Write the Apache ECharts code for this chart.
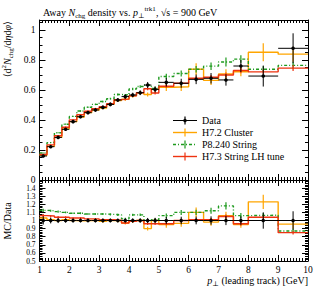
<!DOCTYPE html>
<html><head><meta charset="utf-8">
<script src="https://cdn.jsdelivr.net/npm/echarts@6/dist/echarts.min.js"></script>
<style>html,body{margin:0;padding:0;background:#fff}#c{width:319px;height:288px}</style>
</head><body><div id="c"></div>
<script>
// ---- data ----
const binEdges = [1,1.25,1.5,1.75,2,2.25,2.5,2.75,3,3.25,3.5,3.75,4,4.25,4.5,4.75,5,5.5,6,6.5,7,7.5,8,9,10];
const dataVals = [0.160,0.222,0.284,0.338,0.389,0.422,0.449,0.467,0.484,0.504,0.533,0.556,0.567,0.582,0.633,0.604,0.651,0.645,0.671,0.678,0.667,0.760,0.693,0.878];
const dataErr  = [0.008,0.008,0.009,0.009,0.010,0.010,0.010,0.011,0.012,0.012,0.013,0.014,0.015,0.016,0.020,0.020,0.028,0.030,0.032,0.035,0.038,0.040,0.070,0.100];
const h72Vals  = [0.165,0.224,0.284,0.341,0.389,0.420,0.449,0.467,0.479,0.504,0.530,0.539,0.561,0.582,0.570,0.604,0.618,0.622,0.738,0.664,0.707,0.722,0.852,0.839];
const h72Err   = [0.004,0.004,0.005,0.005,0.006,0.006,0.007,0.007,0.008,0.008,0.009,0.010,0.011,0.012,0.014,0.015,0.025,0.028,0.040,0.030,0.032,0.030,0.060,0.050];
const p8Vals   = [0.180,0.249,0.315,0.372,0.424,0.460,0.485,0.504,0.523,0.542,0.570,0.567,0.607,0.623,0.633,0.610,0.690,0.710,0.738,0.759,0.787,0.806,0.738,0.764];
const p8Err    = [0.003,0.003,0.004,0.004,0.004,0.005,0.005,0.005,0.006,0.006,0.007,0.007,0.008,0.009,0.010,0.011,0.018,0.020,0.022,0.025,0.030,0.025,0.020,0.025];
const h73Vals  = [0.170,0.234,0.295,0.352,0.401,0.435,0.458,0.476,0.489,0.509,0.536,0.539,0.561,0.582,0.608,0.580,0.625,0.645,0.678,0.685,0.700,0.730,0.721,0.746];
const h73Err   = [0.003,0.003,0.004,0.004,0.004,0.005,0.005,0.005,0.006,0.006,0.007,0.007,0.008,0.008,0.009,0.010,0.012,0.013,0.014,0.015,0.016,0.018,0.015,0.020];
const h72Ratio = [1.03,1.01,1.00,1.01,1.00,0.995,1.00,1.00,0.99,1.00,0.995,0.97,0.99,1.00,0.90,1.00,0.95,0.965,1.10,0.98,1.06,0.95,1.23,0.955];
const p8Ratio  = [1.125,1.12,1.11,1.10,1.09,1.09,1.08,1.08,1.08,1.075,1.07,1.02,1.07,1.07,1.00,1.01,1.06,1.10,1.10,1.12,1.18,1.06,1.065,0.87];
const h73Ratio = [1.06,1.055,1.04,1.04,1.03,1.03,1.02,1.02,1.01,1.01,1.005,0.97,0.99,1.00,0.96,0.96,0.96,1.00,1.01,1.01,1.05,0.96,1.04,0.85];
const xTickLabels = [1,2,3,4,5,6,7,8,9,10];
const mainYTicks = [0,0.2,0.4,0.6,0.8,1];
const ratioYTicks = [0.5,0.6,0.7,0.8,0.9,1,1.1,1.2,1.3,1.4];

const C_DATA = '#000000', C_H72 = '#ffa500', C_P8 = '#1e9a1e', C_H73 = '#ee3311';
const FONT = '"Liberation Serif", "DejaVu Serif", serif';

function stepData(vals){ const d = vals.map((v,i)=>[binEdges[i], v]); d.push([binEdges[vals.length], vals[vals.length-1]]); return d; }
function barData(vals, errs){ return vals.map((v,i)=>[binEdges[i], binEdges[i+1], v, errs[i]]); }
const ones = dataVals.map(()=>1);
const dataRatioErr = dataErr.map((e,i)=>e/dataVals[i]);
const h72RErr = h72Err.map((e,i)=>e/dataVals[i]);
const p8RErr = p8Err.map((e,i)=>e/dataVals[i]);
const h73RErr = h73Err.map((e,i)=>e/dataVals[i]);

function stepSeries(vals, color, dash, xi, yi, z){
  return {type:'line', xAxisIndex:xi, yAxisIndex:yi, data:stepData(vals), step:'end', showSymbol:false, silent:true, z:z,
    lineStyle:{color:color, width:1.4, type:dash||'solid'}, animation:false, clip:false};
}
function errSeries(vals, errs, color, xi, yi, z){
  return {type:'custom', xAxisIndex:xi, yAxisIndex:yi, data:barData(vals, errs), z:z, silent:true, animation:false,
    encode:{x:[0,1], y:[2]},
    renderItem:function(params, api){
      const xc = (api.value(0)+api.value(1))/2, v = api.value(2), e = api.value(3);
      const a = api.coord([xc, v-e]), b = api.coord([xc, v+e]);
      return {type:'line', shape:{x1:a[0], y1:a[1], x2:b[0], y2:b[1]}, style:{stroke:color, lineWidth:1.2}};
    }};
}
function dataSeries(vals, errs, xi, yi){
  return {type:'custom', xAxisIndex:xi, yAxisIndex:yi, data:barData(vals, errs), z:10, silent:true, animation:false,
    encode:{x:[0,1], y:[2]},
    renderItem:function(params, api){
      const x0 = api.value(0), x1 = api.value(1), v = api.value(2), e = api.value(3), xc=(x0+x1)/2;
      const l = api.coord([x0, v]), r = api.coord([x1, v]), a = api.coord([xc, v-e]), b = api.coord([xc, v+e]), c = api.coord([xc, v]);
      return {type:'group', children:[
        {type:'line', shape:{x1:l[0], y1:l[1], x2:r[0], y2:r[1]}, style:{stroke:C_DATA, lineWidth:1}},
        {type:'line', shape:{x1:a[0], y1:a[1], x2:b[0], y2:b[1]}, style:{stroke:C_DATA, lineWidth:1}},
        {type:'circle', shape:{cx:c[0], cy:c[1], r:1.8}, style:{fill:C_DATA}}
      ]};
    }};
}

function xAx(grid, pos, labels){
  return {type:'value', gridIndex:grid, position:pos, min:1, max:10, interval:1,
    axisLine:{show:true, onZero:false, lineStyle:{color:'#000', width:1}},
    axisTick:{show:true, inside:true, length:6, lineStyle:{color:'#000'}},
    minorTick:{show:true, splitNumber:10, length:3, lineStyle:{color:'#000'}},
    splitLine:{show:false},
    axisLabel:{show:labels, margin:4, color:'#000', fontFamily:FONT, fontSize:9.5,
      formatter:function(v){ return xTickLabels.indexOf(Math.round(v))>=0 && Math.abs(v-Math.round(v))<1e-6 ? String(Math.round(v)) : ''; }}};
}
function yAx(grid, pos, labels, min, max, interval, minorSplit, tickList, fs){
  return {type:'value', gridIndex:grid, position:pos, min:min, max:max, interval:interval,
    axisLine:{show:true, onZero:false, lineStyle:{color:'#000', width:1}},
    axisTick:{show:true, inside:true, length:6, lineStyle:{color:'#000'}},
    minorTick:{show:true, splitNumber:minorSplit, length:3, lineStyle:{color:'#000'}},
    splitLine:{show:false},
    axisLabel:{show:labels, margin:4, color:'#000', fontFamily:FONT, fontSize:fs, lineHeight:fs, hideOverlap:false,
      formatter:function(v){ for (const t of tickList){ if (Math.abs(v-t)<1e-6) return String(t); } return ''; }}};
}

const richBase = {
  t:{fontFamily:FONT, fontSize:10, color:'#000', verticalAlign:'middle'},
  i:{fontFamily:FONT, fontSize:10, fontStyle:'italic', color:'#000', verticalAlign:'middle'},
  sub:{fontFamily:FONT, fontSize:7, color:'#000', verticalAlign:'bottom', lineHeight:14},
  sup:{fontFamily:FONT, fontSize:7, color:'#000', verticalAlign:'top', lineHeight:14}
};

const legendRows = [
  {name:'Data', color:C_DATA, dash:null, dot:true},
  {name:'H7.2 Cluster', color:C_H72, dash:null},
  {name:'P8.240 String', color:C_P8, dash:[3,2,1,2]},
  {name:'H7.3 String LH tune', color:C_H73, dash:null}
];
const legendGraphics = [];
legendRows.forEach((r,k)=>{
  const y = 120.5 + k*12;
  legendGraphics.push({type:'line', shape:{x1:173, y1:y, x2:197, y2:y}, style:{stroke:r.color, lineWidth:r.dot?1:1.4, lineDash:r.dash||null}, z:20});
  legendGraphics.push({type:'line', shape:{x1:185, y1:y-4, x2:185, y2:y+4}, style:{stroke:r.color, lineWidth:1.2}, z:20});
  if (r.dot) legendGraphics.push({type:'circle', shape:{cx:185, cy:y, r:1.8}, style:{fill:r.color}, z:20});
  legendGraphics.push({type:'text', x:202, y:y, style:{text:r.name, fill:'#000', font:'10px '+FONT, textAlign:'left', textVerticalAlign:'middle', align:'left', verticalAlign:'middle'}, z:20});
});

const chart = echarts.init(document.getElementById('c'), null, {renderer:'svg'});
chart.setOption({
  animation:false,
  backgroundColor:'#fff',
  title:{text:'{t|Away }{i|N}{sub|chg}{t| density vs. }{i|p}{sub|⊥}{sup|trk1}{t|, √s = 900 GeV}', left:38, top:0,
    textStyle:{fontFamily:FONT, fontSize:10, fontWeight:'normal', color:'#000', rich:richBase}},
  grid:[{left:39.5, top:20, width:268.5, height:160}, {left:39.5, top:180, width:268.5, height:81}],
  xAxis:[xAx(0,'bottom',false), xAx(0,'top',false), xAx(1,'bottom',true), xAx(1,'top',false)],
  yAxis:[yAx(0,'left',true,0,1.0667,0.2,4,mainYTicks,9.5), yAx(0,'right',false,0,1.0667,0.2,4,mainYTicks,9.5),
         yAx(1,'left',true,0.5,1.5,0.1,5,ratioYTicks,7.5), yAx(1,'right',false,0.5,1.5,0.1,5,ratioYTicks,7.5)],
  graphic:[
    {type:'text', x:7, y:21, rotation:Math.PI/2, style:{text:'{t|⟨d}{sup|2}{i|N}{sub|chg}{t|/d}{i|η}{t|d}{i|φ}{t|⟩}', rich:richBase, font:'10px '+FONT, fill:'#000', textAlign:'right', align:'right', textVerticalAlign:'middle', verticalAlign:'middle'}},
    {type:'text', x:7, y:221, rotation:Math.PI/2, style:{text:'MC/Data', font:'10px '+FONT, fill:'#000', textAlign:'center', align:'center', textVerticalAlign:'middle', verticalAlign:'middle'}},
    {type:'text', x:308, y:280, style:{text:'{i|p}{sub|⊥}{t| (leading track) [GeV]}', rich:richBase, font:'10px '+FONT, fill:'#000', textAlign:'right', align:'right', textVerticalAlign:'middle', verticalAlign:'middle'}}
  ].concat(legendGraphics),
  series:[
    stepSeries(h72Vals, C_H72, null, 0, 0, 2), errSeries(h72Vals, h72Err, C_H72, 0, 0, 2),
    stepSeries(p8Vals, C_P8, [3,2,1,2], 0, 0, 3), errSeries(p8Vals, p8Err, C_P8, 0, 0, 3),
    stepSeries(h73Vals, C_H73, null, 0, 0, 4), errSeries(h73Vals, h73Err, C_H73, 0, 0, 4),
    dataSeries(dataVals, dataErr, 0, 0),
    stepSeries(h72Ratio, C_H72, null, 2, 2, 2), errSeries(h72Ratio, h72RErr, C_H72, 2, 2, 2),
    stepSeries(p8Ratio, C_P8, [3,2,1,2], 2, 2, 3), errSeries(p8Ratio, p8RErr, C_P8, 2, 2, 3),
    stepSeries(h73Ratio, C_H73, null, 2, 2, 4), errSeries(h73Ratio, h73RErr, C_H73, 2, 2, 4),
    dataSeries(ones, dataRatioErr, 2, 2)
  ]
});
</script></body></html>
